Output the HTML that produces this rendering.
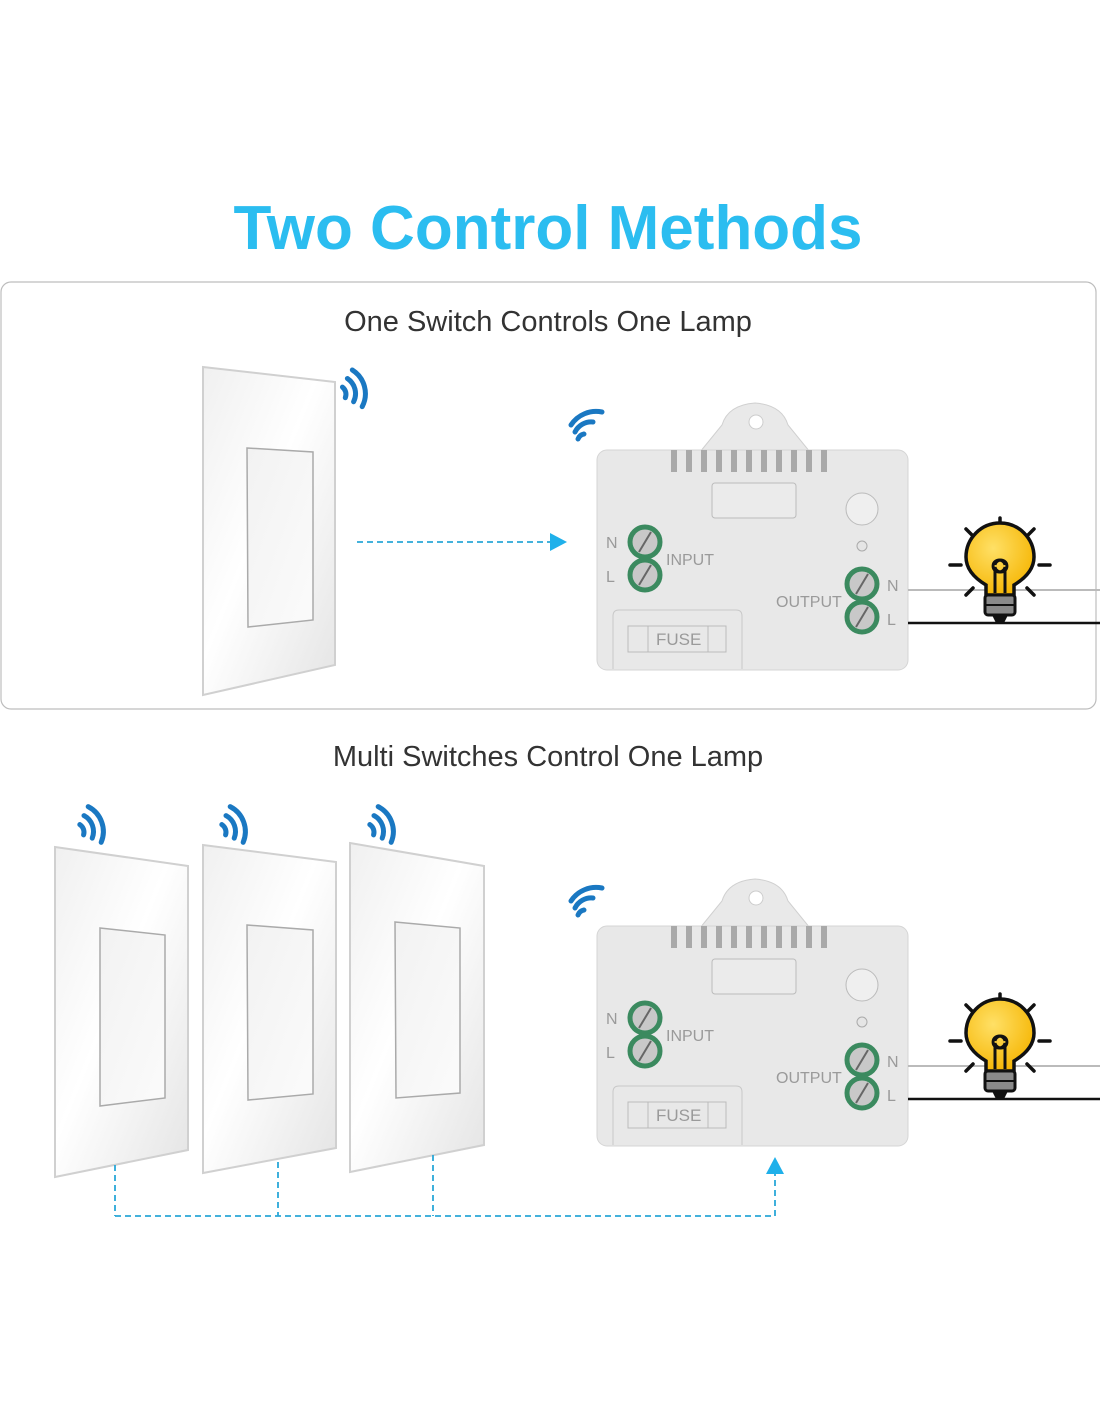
<!DOCTYPE html>
<html><head><meta charset="utf-8"><style>
html,body{margin:0;padding:0;background:#fff;}
svg{display:block;}
text{font-family:"Liberation Sans",sans-serif;}
</style></head><body>
<svg width="1100" height="1422" viewBox="0 0 1100 1422" xmlns="http://www.w3.org/2000/svg">
<defs>
<linearGradient id="plate" x1="0" y1="0" x2="1" y2="1">
<stop offset="0" stop-color="#f0f0f0"/><stop offset="0.45" stop-color="#ffffff"/><stop offset="1" stop-color="#e4e4e4"/></linearGradient>
<linearGradient id="rock" x1="0" y1="0" x2="1" y2="1">
<stop offset="0" stop-color="#f2f2f2"/><stop offset="1" stop-color="#fbfbfb"/></linearGradient>
<radialGradient id="bulb" cx="0.4" cy="0.35" r="0.7"><stop offset="0" stop-color="#ffe066"/><stop offset="1" stop-color="#f5b400"/></radialGradient>
</defs>
<text x="548" y="249" text-anchor="middle" font-size="62" font-weight="bold" fill="#2bbdf0">Two Control Methods</text>
<rect x="1" y="282" width="1095" height="427" rx="10" fill="none" stroke="#bdbdbd" stroke-width="1.2"/>
<text x="548" y="331" text-anchor="middle" font-size="29" fill="#333">One Switch Controls One Lamp</text>
<text x="548" y="766" text-anchor="middle" font-size="29" fill="#333">Multi Switches Control One Lamp</text>

<!-- switches -->
<g stroke="#d0d0d0" stroke-width="2">
<polygon points="203,367 335,382 335,665 203,695" fill="url(#plate)"/>
<polygon points="247,448 313,452 313,620 248,627" fill="url(#rock)" stroke="#aaa" stroke-width="1.5"/>
<polygon points="55,847 188,866 188,1150 55,1177" fill="url(#plate)"/>
<polygon points="100,928 165,935 165,1098 100,1106" fill="url(#rock)" stroke="#aaa" stroke-width="1.5"/>
<polygon points="203,845 336,862 336,1148 203,1173" fill="url(#plate)"/>
<polygon points="247,925 313,930 313,1094 248,1100" fill="url(#rock)" stroke="#aaa" stroke-width="1.5"/>
<polygon points="350,843 484,866 484,1145 350,1172" fill="url(#plate)"/>
<polygon points="395,922 460,928 460,1093 396,1098" fill="url(#rock)" stroke="#aaa" stroke-width="1.5"/>
</g>

<!-- switch wifi icons -->
<g fill="none" stroke="#1a78c2" stroke-width="5" stroke-linecap="round">
<g transform="translate(336,394) rotate(-15)">
<path d="M8,-5 A9,9 0 0 1 8,6"/><path d="M15,-12 A18,18 0 0 1 15,12"/><path d="M22,-19 A28,28 0 0 1 22,19"/></g>
<g transform="translate(74,832) rotate(-20)">
<path d="M8,-5 A9,9 0 0 1 8,6"/><path d="M15,-12 A18,18 0 0 1 15,12"/><path d="M22,-19 A28,28 0 0 1 22,19"/></g>
<g transform="translate(216,832) rotate(-20)">
<path d="M8,-5 A9,9 0 0 1 8,6"/><path d="M15,-12 A18,18 0 0 1 15,12"/><path d="M22,-19 A28,28 0 0 1 22,19"/></g>
<g transform="translate(364,832) rotate(-20)">
<path d="M8,-5 A9,9 0 0 1 8,6"/><path d="M15,-12 A18,18 0 0 1 15,12"/><path d="M22,-19 A28,28 0 0 1 22,19"/></g>
<g transform="translate(574,442)">
<path d="M4,-3 A8,8 0 0 1 10,-8"/><path d="M1,-10 A18,18 0 0 1 19,-20"/><path d="M-3,-17 A30,30 0 0 1 28,-30"/></g>
<g transform="translate(574,918)">
<path d="M4,-3 A8,8 0 0 1 10,-8"/><path d="M1,-10 A18,18 0 0 1 19,-20"/><path d="M-3,-17 A30,30 0 0 1 28,-30"/></g>
</g>

<!-- modules -->
<g>
<path d="M700,452 L722,425 Q728,405 755,403 Q782,405 788,425 L810,452 Z" fill="#e9e9e9" stroke="#d0d0d0"/>
<circle cx="756" cy="422" r="7" fill="#fff" stroke="#ccc"/>
<rect x="597" y="450" width="311" height="220" rx="10" fill="#e8e8e8" stroke="#d5d5d5"/>
<g fill="#a9a9a9">
<rect x="671" y="450" width="6" height="22"/><rect x="686" y="450" width="6" height="22"/><rect x="701" y="450" width="6" height="22"/><rect x="716" y="450" width="6" height="22"/><rect x="731" y="450" width="6" height="22"/><rect x="746" y="450" width="6" height="22"/><rect x="761" y="450" width="6" height="22"/><rect x="776" y="450" width="6" height="22"/><rect x="791" y="450" width="6" height="22"/><rect x="806" y="450" width="6" height="22"/><rect x="821" y="450" width="6" height="22"/></g>
<rect x="712" y="483" width="84" height="35" rx="3" fill="#ebebeb" stroke="#bbb"/>
<circle cx="862" cy="509" r="16" fill="#efefef" stroke="#bbb"/>
<circle cx="862" cy="546" r="5" fill="#e5e5e5" stroke="#aaa"/>
<g fill="#c8c8c8" stroke="#3b8a5f" stroke-width="5">
<circle cx="645" cy="542" r="15"/><circle cx="645" cy="575" r="15"/>
<circle cx="862" cy="584" r="15"/><circle cx="862" cy="617" r="15"/></g>
<g stroke="#666" stroke-width="2">
<line x1="639" y1="552" x2="651" y2="532"/><line x1="639" y1="585" x2="651" y2="565"/>
<line x1="856" y1="594" x2="868" y2="574"/><line x1="856" y1="627" x2="868" y2="607"/></g>
<path d="M613,669 L613,616 Q613,610 619,610 L736,610 Q742,610 742,616 L742,669" fill="none" stroke="#c8c8c8"/>
<rect x="628" y="626" width="98" height="26" fill="none" stroke="#bbb"/>
<line x1="648" y1="626" x2="648" y2="652" stroke="#bbb"/><line x1="708" y1="626" x2="708" y2="652" stroke="#bbb"/>
<g fill="#9a9a9a" font-size="16">
<text x="606" y="548">N</text><text x="606" y="582">L</text>
<text x="666" y="565">INPUT</text><text x="776" y="607">OUTPUT</text>
<text x="887" y="591">N</text><text x="887" y="625">L</text>
<text x="656" y="645" font-size="17">FUSE</text></g>
</g>
<g transform="translate(0,476)">
<path d="M700,452 L722,425 Q728,405 755,403 Q782,405 788,425 L810,452 Z" fill="#e9e9e9" stroke="#d0d0d0"/>
<circle cx="756" cy="422" r="7" fill="#fff" stroke="#ccc"/>
<rect x="597" y="450" width="311" height="220" rx="10" fill="#e8e8e8" stroke="#d5d5d5"/>
<g fill="#a9a9a9">
<rect x="671" y="450" width="6" height="22"/><rect x="686" y="450" width="6" height="22"/><rect x="701" y="450" width="6" height="22"/><rect x="716" y="450" width="6" height="22"/><rect x="731" y="450" width="6" height="22"/><rect x="746" y="450" width="6" height="22"/><rect x="761" y="450" width="6" height="22"/><rect x="776" y="450" width="6" height="22"/><rect x="791" y="450" width="6" height="22"/><rect x="806" y="450" width="6" height="22"/><rect x="821" y="450" width="6" height="22"/></g>
<rect x="712" y="483" width="84" height="35" rx="3" fill="#ebebeb" stroke="#bbb"/>
<circle cx="862" cy="509" r="16" fill="#efefef" stroke="#bbb"/>
<circle cx="862" cy="546" r="5" fill="#e5e5e5" stroke="#aaa"/>
<g fill="#c8c8c8" stroke="#3b8a5f" stroke-width="5">
<circle cx="645" cy="542" r="15"/><circle cx="645" cy="575" r="15"/>
<circle cx="862" cy="584" r="15"/><circle cx="862" cy="617" r="15"/></g>
<g stroke="#666" stroke-width="2">
<line x1="639" y1="552" x2="651" y2="532"/><line x1="639" y1="585" x2="651" y2="565"/>
<line x1="856" y1="594" x2="868" y2="574"/><line x1="856" y1="627" x2="868" y2="607"/></g>
<path d="M613,669 L613,616 Q613,610 619,610 L736,610 Q742,610 742,616 L742,669" fill="none" stroke="#c8c8c8"/>
<rect x="628" y="626" width="98" height="26" fill="none" stroke="#bbb"/>
<line x1="648" y1="626" x2="648" y2="652" stroke="#bbb"/><line x1="708" y1="626" x2="708" y2="652" stroke="#bbb"/>
<g fill="#9a9a9a" font-size="16">
<text x="606" y="548">N</text><text x="606" y="582">L</text>
<text x="666" y="565">INPUT</text><text x="776" y="607">OUTPUT</text>
<text x="887" y="591">N</text><text x="887" y="625">L</text>
<text x="656" y="645" font-size="17">FUSE</text></g>
</g>

<!-- wires + bulbs -->
<g>
<line x1="908" y1="590" x2="1100" y2="590" stroke="#bbb" stroke-width="2"/>
<line x1="908" y1="623" x2="1100" y2="623" stroke="#111" stroke-width="2.5"/>
<line x1="908" y1="1066" x2="1100" y2="1066" stroke="#bbb" stroke-width="2"/>
<line x1="908" y1="1099" x2="1100" y2="1099" stroke="#111" stroke-width="2.5"/>
</g>
<g transform="translate(1000,565)">
<g stroke="#111" stroke-width="3.5" stroke-linecap="round">
<line x1="0" y1="-47" x2="0" y2="-36"/><line x1="-34" y1="-36" x2="-27" y2="-29"/><line x1="34" y1="-36" x2="27" y2="-29"/>
<line x1="-50" y1="0" x2="-39" y2="0"/><line x1="50" y1="0" x2="39" y2="0"/>
<line x1="-34" y1="30" x2="-27" y2="23"/><line x1="34" y1="30" x2="27" y2="23"/></g>
<path d="M-14,30 L-14,20 Q-34,8 -34,-8 A34,34 0 1 1 34,-8 Q34,8 14,20 L14,30 Z" fill="url(#bulb)" stroke="#111" stroke-width="3.5"/>
<path d="M-5,28 L-5,2 A6,6 0 1 0 -5,0 M5,28 L5,2 A6,6 0 1 1 5,0" fill="none" stroke="#111" stroke-width="3"/>
<rect x="-15" y="30" width="30" height="20" rx="3" fill="#8a8a8a" stroke="#111" stroke-width="3"/>
<line x1="-15" y1="40" x2="15" y2="40" stroke="#111" stroke-width="2"/>
<path d="M-8,50 L8,50 L4,58 L-4,58 Z" fill="#111"/>
</g>
<g transform="translate(1000,1041)">
<g stroke="#111" stroke-width="3.5" stroke-linecap="round">
<line x1="0" y1="-47" x2="0" y2="-36"/><line x1="-34" y1="-36" x2="-27" y2="-29"/><line x1="34" y1="-36" x2="27" y2="-29"/>
<line x1="-50" y1="0" x2="-39" y2="0"/><line x1="50" y1="0" x2="39" y2="0"/>
<line x1="-34" y1="30" x2="-27" y2="23"/><line x1="34" y1="30" x2="27" y2="23"/></g>
<path d="M-14,30 L-14,20 Q-34,8 -34,-8 A34,34 0 1 1 34,-8 Q34,8 14,20 L14,30 Z" fill="url(#bulb)" stroke="#111" stroke-width="3.5"/>
<path d="M-5,28 L-5,2 A6,6 0 1 0 -5,0 M5,28 L5,2 A6,6 0 1 1 5,0" fill="none" stroke="#111" stroke-width="3"/>
<rect x="-15" y="30" width="30" height="20" rx="3" fill="#8a8a8a" stroke="#111" stroke-width="3"/>
<line x1="-15" y1="40" x2="15" y2="40" stroke="#111" stroke-width="2"/>
<path d="M-8,50 L8,50 L4,58 L-4,58 Z" fill="#111"/>
</g>

<!-- dashed connectors -->
<g fill="none" stroke="#2aa8d8" stroke-width="1.8" stroke-dasharray="6,4">
<line x1="357" y1="542" x2="550" y2="542"/>
<line x1="115" y1="1165" x2="115" y2="1216"/>
<line x1="278" y1="1162" x2="278" y2="1216"/>
<line x1="433" y1="1155" x2="433" y2="1216"/>
<line x1="115" y1="1216" x2="775" y2="1216"/>
<line x1="775" y1="1216" x2="775" y2="1174"/>
</g>
<polygon points="550,533 567,542 550,551" fill="#1fb0ea"/>
<polygon points="766,1174 775,1157 784,1174" fill="#1fb0ea"/>
</svg>
</body></html>
